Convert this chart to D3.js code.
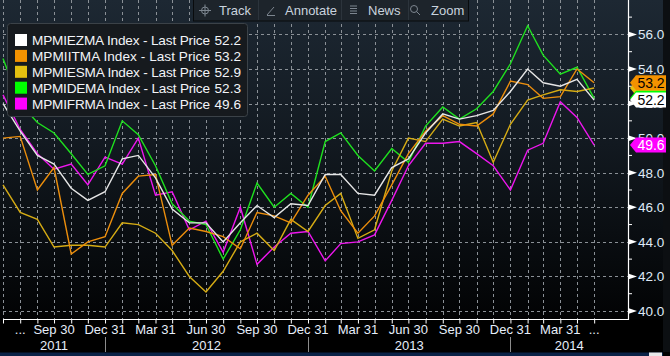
<!DOCTYPE html>
<html><head><meta charset="utf-8">
<script src="https://cdn.jsdelivr.net/npm/d3@7"></script>
<style>
html,body{margin:0;padding:0;background:#000;overflow:hidden}
svg{display:block}
text{font-family:"Liberation Sans",Arial,sans-serif}
</style>
</head><body>
<svg id="chart" width="670" height="356"></svg>
<script>
// ---------- DATA ----------
const months = [
  "2011-06","2011-07","2011-08","2011-09","2011-10","2011-11","2011-12",
  "2012-01","2012-02","2012-03","2012-04","2012-05","2012-06","2012-07","2012-08","2012-09","2012-10","2012-11","2012-12",
  "2013-01","2013-02","2013-03","2013-04","2013-05","2013-06","2013-07","2013-08","2013-09","2013-10","2013-11","2013-12",
  "2014-01","2014-02","2014-03","2014-04","2014-05"
];
const seriesNames = ["MPMIEZMA Index","MPMIITMA Index","MPMIESMA Index","MPMIDEMA Index","MPMIFRMA Index"];
const eurozone = [52.0,50.4,49.0,48.5,47.1,46.4,46.9, 48.8,49.0,47.7,45.9,45.1,45.1,44.0,45.1,46.1,45.4,46.2,46.1, 47.9,47.9,46.8,46.7,48.3,48.8,50.3,51.4,51.1,51.3,51.6,52.7, 54.0,53.2,53.0,53.4,52.2];
const italy    = [50.0,50.1,47.0,48.3,43.3,44.0,44.3, 46.8,47.8,47.9,43.8,44.8,44.6,44.3,43.6,45.7,45.5,45.1,46.7, 47.8,45.8,44.5,45.5,47.3,49.1,50.4,51.3,50.8,50.7,51.4,53.3, 53.1,52.3,52.4,54.0,53.2];
const spain    = [47.3,45.7,45.3,43.7,43.8,43.8,43.7, 45.1,45.0,44.5,43.5,42.0,41.1,42.3,44.0,44.5,43.5,45.3,44.6, 46.1,46.8,44.2,44.7,48.1,50.0,49.8,51.1,50.7,50.9,48.6,50.8, 52.2,52.5,52.8,52.7,52.9];
const germany  = [54.6,52.0,50.9,50.3,49.1,47.9,48.4, 51.0,50.2,48.4,46.2,45.2,45.0,43.0,44.7,47.4,46.0,46.8,46.0, 49.8,50.3,49.0,48.1,49.4,48.6,50.7,51.8,51.1,51.7,52.7,54.3, 56.5,54.8,53.7,54.1,52.3];
const france   = [52.5,50.5,49.1,48.2,48.5,47.3,48.9, 48.5,50.0,46.7,46.9,44.7,45.2,43.4,46.0,42.7,43.7,44.5,44.6, 42.9,43.9,44.0,44.4,46.4,48.4,49.7,49.7,49.8,49.1,48.4,47.0, 49.3,49.7,52.1,51.2,49.6];
const lastPrices = ["52.2","53.2","52.9","52.3","49.6"];
const yTicks = [40,42,44,46,48,50,52,54,56];
const yMinorTicks = [41,43,45,47,49,51,53,55,57];
const xLabelDates = ["2011-07-31","2011-09-30","2011-12-31","2012-03-31","2012-06-30","2012-09-30","2012-12-31","2013-03-31","2013-06-30","2013-09-30","2013-12-31","2014-03-31","2014-05-31"];
const xLabelTexts = ["...","Sep 30","Dec 31","Mar 31","Jun 30","Sep 30","Dec 31","Mar 31","Jun 30","Sep 30","Dec 31","Mar 31","..."];
const yearLabels = ["2011","2012","2013","2014"];
const yearBounds = ["2011-06-30","2011-12-31","2012-12-31","2013-12-31","2014-07-31"];
const toolbarItems = ["Track","Annotate","News","Zoom"];

// ---------- STYLE ----------
const lineColors  = ["#e6e6e6","#ec8e0c","#d6ac14","#1fe01f","#ee16ee"];
const swatchColors= ["#ffffff","#f39200","#e4c010","#00ff00","#ff00ff"];
const tagText     = ["#000","#000","#000","#000","#fff"];
const tagShowText = [true,true,false,false,true]; // yellow & green tags are hidden underneath

const svg = d3.select("#chart");
const W = 670, H = 356;
const parseM = d3.timeParse("%Y-%m");
const parseD = d3.timeParse("%Y-%m-%d");
const monthEnd = s => { const d = parseM(s); return new Date(d.getFullYear(), d.getMonth()+1, 0); };
const dates = months.map(monthEnd);

const x = d3.scaleTime().domain([parseD("2011-06-30"), parseD("2014-07-31")]).range([3, 628]);
const y = d3.scaleLinear().domain([40, 56]).range([311, 34.4]);
const axisY = 319.5;

// background
const defs = svg.append("defs");
const g1 = defs.append("linearGradient").attr("id","bg").attr("x1",0).attr("y1",0).attr("x2",0).attr("y2",1);
g1.append("stop").attr("offset","0%").attr("stop-color","#1d2833");
g1.append("stop").attr("offset","45%").attr("stop-color","#121920");
g1.append("stop").attr("offset","100%").attr("stop-color","#020304");
svg.append("rect").attr("width",W).attr("height",H).attr("fill","#000");
svg.append("rect").attr("x",0).attr("y",0).attr("width",663).attr("height",axisY).attr("fill","url(#bg)");
svg.append("rect").attr("x",663).attr("y",0).attr("width",7).attr("height",352).attr("fill","#0c0f12");

// grid
const grid = svg.append("g").attr("stroke","#8a9096").attr("stroke-width",1).attr("stroke-dasharray","3,3").attr("shape-rendering","crispEdges");
grid.selectAll("line.h").data(yTicks).join("line").attr("class","h")
  .attr("x1",3).attr("x2",628).attr("y1",d=>Math.round(y(d))+0.5).attr("y2",d=>Math.round(y(d))+0.5);
grid.selectAll("line.v").data(dates).join("line").attr("class","v")
  .attr("x1",d=>Math.round(x(d))+0.5).attr("x2",d=>Math.round(x(d))+0.5).attr("y1",0).attr("y2",axisY);

// series lines
const allSeries = [eurozone, italy, spain, germany, france];
const line = d3.line().x((d,i)=>x(dates[i])).y(d=>y(d));
const order = [4,3,2,1,0];
svg.append("g").selectAll("path").data(order).join("path")
  .attr("d", k => line(allSeries[k]))
  .attr("fill","none").attr("stroke", k => lineColors[k]).attr("stroke-width",1.4).attr("stroke-linejoin","miter");

// axes
const yAxis = d3.axisRight(y).tickValues(yTicks).tickSize(0).tickPadding(10).tickFormat(d3.format(".1f"));
const gy = svg.append("g").attr("transform","translate(628,0)").call(yAxis);
gy.select(".domain").remove();
gy.selectAll("text").attr("fill","#dfeaf6").attr("font-size","13.5px").attr("font-family","Liberation Sans, Arial, sans-serif");
svg.append("line").attr("x1",628.5).attr("x2",628.5).attr("y1",0).attr("y2",axisY+0.5).attr("stroke","#fff").attr("stroke-width",1.2);
svg.append("g").selectAll("path").data(yTicks).join("path")
  .attr("d", d => `M628,${y(d)-3}L637,${y(d)}L628,${y(d)+3}Z`).attr("fill","#fff");
svg.append("g").selectAll("line").data(yMinorTicks).join("line")
  .attr("x1",628).attr("x2",632).attr("y1",d=>y(d)).attr("y2",d=>y(d)).attr("stroke","#fff");

const xAxis = d3.axisBottom(x).tickValues(dates).tickSize(4).tickFormat("");
const gx = svg.append("g").attr("transform",`translate(0,${axisY})`).call(xAxis);
gx.select(".domain").remove();
gx.selectAll("line").attr("stroke","#fff");
svg.append("line").attr("x1",3).attr("x2",629).attr("y1",axisY).attr("y2",axisY).attr("stroke","#fff").attr("stroke-width",1.2);

svg.append("g").selectAll("text").data(xLabelDates).join("text")
  .attr("x", d => x(parseD(d))).attr("y", 334).attr("text-anchor","middle")
  .attr("fill","#e6eefa").attr("font-size","13px").text((d,i)=>xLabelTexts[i]);

const yb = yearBounds.map(parseD);
svg.append("g").selectAll("line").data(yb.slice(1,4)).join("line")
  .attr("x1",d=>Math.round(x(d))+0.5).attr("x2",d=>Math.round(x(d))+0.5).attr("y1",337).attr("y2",352)
  .attr("stroke","#8c8c8c");
svg.append("g").selectAll("text").data(yearLabels).join("text")
  .attr("x",(d,i)=>(x(yb[i])+x(yb[i+1]))/2).attr("y",350).attr("text-anchor","middle")
  .attr("fill","#e6eefa").attr("font-size","13px").text(d=>d);

// bottom bar
svg.append("rect").attr("x",0).attr("y",352.5).attr("width",663).attr("height",4).attr("fill","#0a2247");
svg.append("rect").attr("x",649).attr("y",352.5).attr("width",13).attr("height",4).attr("fill","#e8e8e8");

// value tags (yellow/green first, hidden underneath)
const tagOrder = [2,3,1,0,4];
const tags = svg.append("g").selectAll("g").data(tagOrder).join("g")
  .attr("transform", k => `translate(0,${y(+lastPrices[k])})`);
tags.append("path").attr("d","M630,0L636,-7.5L666,-7.5L666,7.5L636,7.5Z").attr("fill",k=>swatchColors[k]);
tags.filter(k=>tagShowText[k]).append("text").attr("x",651).attr("y",5).attr("text-anchor","middle").attr("font-size","14px")
  .attr("fill",k=>tagText[k]).text(k=>lastPrices[k]);

// legend
const lg = svg.append("g");
lg.append("rect").attr("x",7.5).attr("y",23.5).attr("width",240).attr("height",93).attr("rx",3)
  .attr("fill","#161a1e").attr("stroke","#3b4248");
const rows = lg.selectAll("g").data(seriesNames).join("g").attr("transform",(d,i)=>`translate(0,${40+i*15.9})`);
rows.append("rect").attr("x",15).attr("y",-6).attr("width",12).attr("height",12).attr("fill",(d,i)=>swatchColors[i]);
rows.append("text").attr("x",32).attr("y",5).attr("fill","#f2f4f8").attr("font-size","13.6px")
  .attr("textLength",178).attr("lengthAdjust","spacing").text(d=>d+" - Last Price");
rows.append("text").attr("x",241).attr("y",5).attr("text-anchor","end").attr("fill","#f2f4f8").attr("font-size","13.6px").text((d,i)=>lastPrices[i]);

// toolbar
const tb = svg.append("g");
tb.append("rect").attr("x",193.5).attr("y",-1).attr("width",275).attr("height",22).attr("fill","#1d242b").attr("stroke","#090b0d");
[258,341,408].forEach(sx=>{
  tb.append("line").attr("x1",sx+0.5).attr("x2",sx+0.5).attr("y1",0).attr("y2",20).attr("stroke","#2c343c");
});
const tbX = [219,285,368,431];
tb.selectAll("text").data(toolbarItems).join("text").attr("x",(d,i)=>tbX[i]).attr("y",15)
  .attr("fill","#c9d3de").attr("font-size","13px").text(d=>d);
const ic = tb.append("g").attr("stroke","#7d8690").attr("fill","none").attr("stroke-width",1);
ic.append("circle").attr("cx",205).attr("cy",10.5).attr("r",3.5);
ic.append("line").attr("x1",199).attr("x2",211).attr("y1",10.5).attr("y2",10.5);
ic.append("line").attr("x1",205).attr("x2",205).attr("y1",4.5).attr("y2",16.5);
ic.append("line").attr("x1",267).attr("x2",274).attr("y1",15).attr("y2",7);
ic.append("line").attr("x1",267).attr("x2",275).attr("y1",15.5).attr("y2",15.5);
[6,8.5,11,13.5].forEach(yy=>ic.append("line").attr("x1",350).attr("x2",357).attr("y1",yy).attr("y2",yy));
ic.append("circle").attr("cx",414).attr("cy",9).attr("r",3.5);
ic.append("line").attr("x1",416.5).attr("x2",420).attr("y1",11.5).attr("y2",15);
</script>
</body></html>
